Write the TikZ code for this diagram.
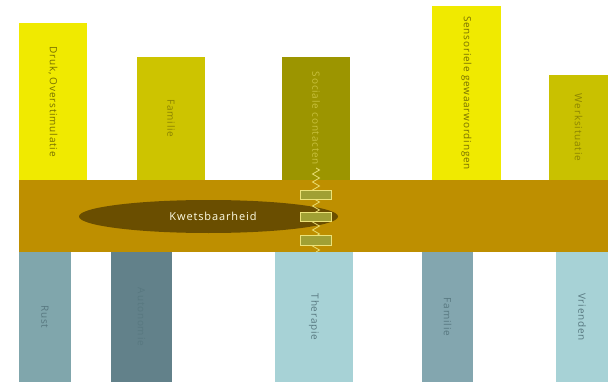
\documentclass[tikz,border=0pt]{standalone}
\usepackage{fontspec}
\setmainfont{Open Sans}
\newfontfamily\labelfont[LetterSpace=8]{Open Sans}
\usetikzlibrary{decorations.pathmorphing}

\definecolor{geelA}{RGB}{240,234,0}
\definecolor{geelB}{RGB}{205,196,0}
\definecolor{geelC}{RGB}{156,149,0}
\definecolor{geelD}{RGB}{201,193,0}
\definecolor{tekstA}{RGB}{120,112,0}
\definecolor{tekstB}{RGB}{140,132,0}
\definecolor{tekstC}{RGB}{200,192,60}
\definecolor{balk}{RGB}{190,143,0}
\definecolor{kern}{RGB}{106,78,0}
\definecolor{blauwA}{RGB}{128,166,172}
\definecolor{blauwB}{RGB}{98,129,138}
\definecolor{blauwC}{RGB}{167,210,214}
\definecolor{blauwD}{RGB}{131,166,175}
\definecolor{tekstD}{RGB}{88,120,128}
\definecolor{veergeel}{RGB}{236,226,120}
\definecolor{veergroen}{RGB}{160,160,52}

\begin{document}
\begin{tikzpicture}[x=1pt,y=-1pt,
  label/.style={rotate=-90,font=\labelfont\fontsize{10}{12}\selectfont,inner sep=0pt},
  veer/.style={draw=veergeel,line width=0.8pt},
  blokje/.style={draw=veergeel,fill=veergroen,line width=0.8pt}]
\useasboundingbox (0,0) rectangle (608,385);

% bovenste kolommen
\foreach \n/\xa/\xb/\ya/\kl/\tk/\t in {
  druk/19/87/23/geelA/tekstA/{Druk, Overstimulatie},
  familieboven/137/205/57/geelB/tekstB/{Familie},
  sociaal/282/350/57/geelC/tekstC/{Sociale contacten},
  sensorisch/432/501/6/geelA/tekstA/{Sensoriele gewaarwordingen},
  werk/549/608/75/geelD/tekstB/{Werksituatie}}{
  \fill[\kl] (\xa,\ya) rectangle (\xb,180);
  \node[label,text=\tk] (\n) at ({(\xa+\xb)/2},{(\ya+180)/2}) {\t};
}

% onderste kolommen
\foreach \n/\xa/\xb/\kl/\t in {
  rust/19/71/blauwA/{Rust},
  autonomie/111/172/blauwB/{Autonomie},
  therapie/275/353/blauwC/{Therapie},
  familieonder/422/473/blauwD/{Familie},
  vrienden/556/608/blauwC/{Vrienden}}{
  \fill[\kl] (\xa,252) rectangle (\xb,382);
  \node[label,text=tekstD] (\n) at ({(\xa+\xb)/2},317) {\t};
}

% band
\fill[balk] (19,180) rectangle (608,252);

% kwetsbaarheid
\fill[kern] (208.5,216.5) ellipse [x radius=129.5, y radius=16.5];
\node[text=white!90!yellow,font=\labelfont\fontsize{11}{13}\selectfont,inner sep=0pt] (kwets) at (213,216) {Kwetsbaarheid};

% veer
\coordinate (veerboven) at (316,168);
\coordinate (veeronder) at (316,252);
\draw[veer,decorate,decoration={zigzag,segment length=8,amplitude=3.5}] (veerboven) -- (veeronder);
\foreach \ya/\yb in {190/199,212/221,235/245}{
  \filldraw[blokje] (300,\ya) rectangle (331,\yb);
}

\end{tikzpicture}
\end{document}
